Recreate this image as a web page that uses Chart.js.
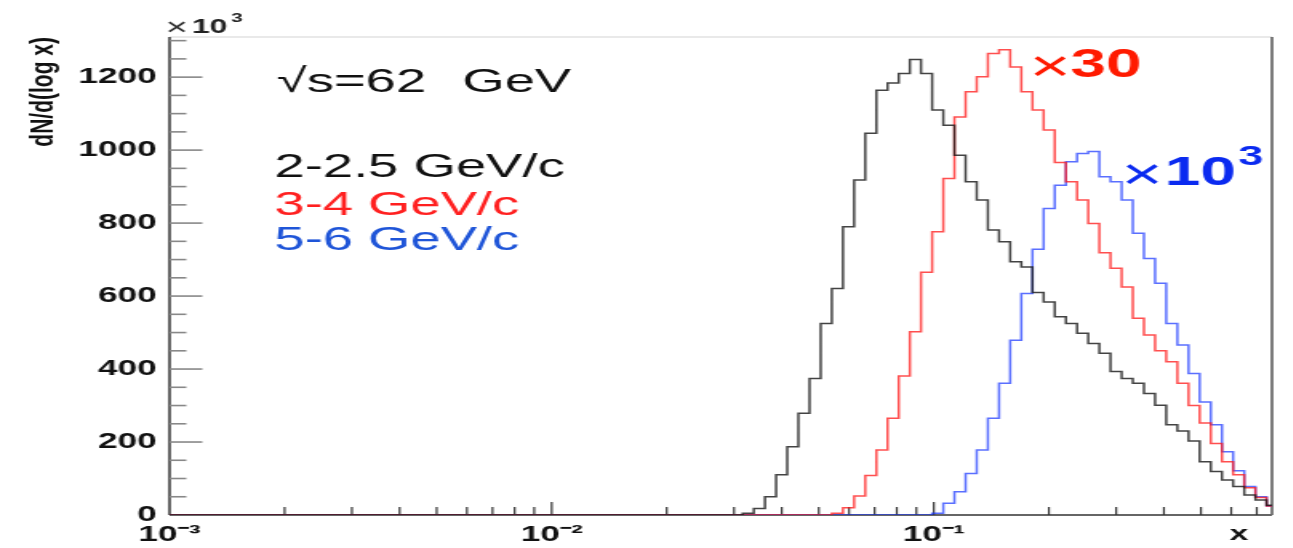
<!DOCTYPE html>
<html>
<head>
<meta charset="utf-8">
<title>dN/d(log x)</title>
<script src="https://cdn.jsdelivr.net/npm/chart.js@4/dist/chart.umd.min.js"></script>
<style>
  html, body { margin: 0; padding: 0; background: #fff; overflow: hidden; }
  /* the original picture is stretched sideways, so the canvas is too */
  #chart { display: block; transform: scaleX(1.6); transform-origin: 0 0; }
</style>
</head>
<body>
<canvas id="chart" width="808" height="548"></canvas>
<script>
// histogram binning in log10(x); the values below start at bin number firstBin
const binLogStart = -2.988;
const binLogWidth = 0.02917;
const firstBin = 50;

const xMin = 0.001;
const xMax = 0.767;
const yMax = 1310;

// 2-2.5 GeV/c
const pt2to25 = [0, 5, 18, 50, 110, 187, 279, 374, 525, 621,
    790, 918, 1046, 1164, 1184, 1210, 1248, 1210, 1110, 1068,
    986, 913, 863, 781, 749, 694, 680, 610, 584, 543,
    525, 498, 470, 443, 393, 374, 361, 333, 301, 247,
    230, 203, 146, 119, 96, 78, 55, 41, 27];
// 3-4 GeV/c (x30)
const pt3to4 = [0, 0, 0, 0, 0, 0, 0, 0, 0, 5,
    20, 52, 108, 178, 265, 381, 502, 665, 776, 922,
    1091, 1160, 1201, 1265, 1275, 1228, 1160, 1110, 1055, 966,
    913, 863, 799, 719, 676, 625, 539, 493, 450, 420,
    361, 300, 252, 196, 146, 110, 75, 48, 25];
// 5-6 GeV/c (x10^3)
const pt5to6 = [0, 0, 0, 0, 0, 0, 0, 0, 0, 0,
    0, 0, 0, 0, 0, 0, 0, 0, 5, 32,
    64, 114, 178, 265, 361, 479, 607, 728, 840, 904,
    968, 991, 996, 927, 913, 863, 772, 703, 635, 525,
    466, 388, 310, 247, 173, 121, 78, 50, 25];

const xTickValues = [0.001, 0.01, 0.1];
const xTickLabels = ["10\u207B\u00B3", "10\u207B\u00B2", "10\u207B\u00B9"];
const yTickValues = [0, 200, 400, 600, 800, 1000, 1200];

const FONT = "'Liberation Sans', Arial, sans-serif";

// points for a step histogram: each point holds its value up to the next edge
function histPoints(values) {
    const pts = [{ x: xMin, y: 0 }];
    values.forEach((v, i) => {
        pts.push({ x: Math.pow(10, binLogStart + (firstBin + i) * binLogWidth), y: v });
    });
    pts.push({ x: Math.pow(10, binLogStart + (firstBin + values.length) * binLogWidth), y: 0 });
    return pts;
}

function line(ctx, x1, y1, x2, y2) {
    ctx.beginPath();
    ctx.moveTo(x1, y1);
    ctx.lineTo(x2, y2);
    ctx.stroke();
}

function text(ctx, s, x, y, font, color) {
    ctx.font = font;
    ctx.fillStyle = color;
    ctx.textAlign = "left";
    ctx.textBaseline = "alphabetic";
    ctx.fillText(s, x, y);
}

// frame and inside ticks, ROOT style
const framePlugin = {
    id: "frame",
    beforeDatasetsDraw(chart) {
        const ctx = chart.ctx;
        const { left, right, top, bottom } = chart.chartArea;
        const xs = chart.scales.x, ys = chart.scales.y;
        ctx.save();
        ctx.lineCap = "butt";

        ctx.strokeStyle = "#d4d4d4"; ctx.lineWidth = 1.2;
        line(ctx, left, top, right, top);
        ctx.strokeStyle = "#444"; ctx.lineWidth = 1.4;
        line(ctx, right, top, right, bottom);
        ctx.strokeStyle = "#555"; ctx.lineWidth = 1.8;
        line(ctx, left, top, left, bottom);
        ctx.strokeStyle = "#666"; ctx.lineWidth = 2;
        line(ctx, left, bottom, right, bottom);

        // y ticks every 50, long ones every 200
        ctx.strokeStyle = "#888"; ctx.lineWidth = 1.6;
        for (let v = 50; v < yMax; v += 50) {
            const py = ys.getPixelForValue(v);
            line(ctx, left, py, left + (v % 200 === 0 ? 20.5 : 10.5), py);
        }

        // x ticks at 1..9 x 10^n
        ctx.strokeStyle = "#333"; ctx.lineWidth = 1.2;
        for (let e = -3; e <= -1; e++) {
            for (let m = 1; m <= 9; m++) {
                const v = m * Math.pow(10, e);
                if (v <= xMin || v >= xMax) continue;
                const px = xs.getPixelForValue(v);
                line(ctx, px, bottom, px, bottom - (m === 1 ? 13 : 8));
            }
        }
        ctx.restore();
    },
    afterDraw(chart) {
        const ctx = chart.ctx;
        ctx.save();

        // axis exponent
        text(ctx, "\u00D7", 103.5, 35, "24px " + FONT, "#333");
        text(ctx, "10", 120, 33, "bold 20px " + FONT, "#222");
        text(ctx, "3", 144.5, 22, "bold 13px " + FONT, "#222");

        text(ctx, "\u221As=62", 173, 92, "34px " + FONT, "#111");
        text(ctx, "GeV", 289, 92, "34px " + FONT, "#111");

        text(ctx, "2-2.5 GeV/c", 171.5, 177, "34px " + FONT, "#111");
        text(ctx, "3-4 GeV/c", 171.5, 215, "34px " + FONT, "#ff2020");
        text(ctx, "5-6 GeV/c", 171.5, 250, "34px " + FONT, "#1f55d8");

        // scale factors
        text(ctx, "\u00D7", 643.5, 81, "44px " + FONT, "#ff1a00");
        text(ctx, "30", 669, 77, "bold 40px " + FONT, "#ff1a00");
        text(ctx, "\u00D7", 701, 189, "44px " + FONT, "#0a2af0");
        text(ctx, "10", 728, 185, "bold 40px " + FONT, "#0a2af0");
        text(ctx, "3", 774, 165, "bold 28px " + FONT, "#0a2af0");

        // axis titles
        text(ctx, "x", 768.5, 539.5, "bold 21px " + FONT, "#111");
        ctx.translate(33, 37);
        ctx.rotate(-Math.PI / 2);
        ctx.font = "bold 21px " + FONT;
        ctx.fillStyle = "#111";
        ctx.textAlign = "right";
        ctx.textBaseline = "alphabetic";
        ctx.fillText("dN/d(log x)", 0, 0);
        ctx.restore();
    }
};

function histDataset(label, values, color) {
    return {
        label: label,
        data: histPoints(values),
        borderColor: color,
        borderWidth: 1.5,
        stepped: true,
        pointRadius: 0,
        fill: false
    };
}

new Chart(document.getElementById("chart"), {
    type: "line",
    data: {
        datasets: [
            histDataset("2-2.5 GeV/c", pt2to25, "rgba(20,20,20,0.8)"),
            histDataset("3-4 GeV/c", pt3to4, "rgba(255,20,20,0.75)"),
            histDataset("5-6 GeV/c", pt5to6, "rgba(20,50,255,0.7)")
        ]
    },
    options: {
        responsive: false,
        animation: false,
        events: [],
        layout: { padding: { left: 0, right: 13, top: 37, bottom: 0 } },
        plugins: { legend: { display: false }, tooltip: { enabled: false } },
        scales: {
            x: {
                type: "logarithmic",
                min: xMin,
                max: xMax,
                grid: { display: false, drawTicks: false },
                border: { display: false },
                afterBuildTicks: s => { s.ticks = xTickValues.map(v => ({ value: v, major: true })); },
                afterFit: s => { s.height = 33; },
                ticks: {
                    autoSkip: false,
                    maxRotation: 0,
                    padding: 7,
                    color: "#111",
                    font: { family: FONT, size: 22, weight: "bold" },
                    callback: v => {
                        const i = xTickValues.findIndex(t => Math.abs(t - v) / t < 1e-6);
                        return i >= 0 ? xTickLabels[i] : "";
                    }
                }
            },
            y: {
                min: 0,
                max: yMax,
                grid: { display: false, drawTicks: false },
                border: { display: false },
                afterBuildTicks: s => { s.ticks = yTickValues.map(v => ({ value: v })); },
                afterFit: s => { s.width = 106; },
                ticks: {
                    autoSkip: false,
                    padding: 8,
                    color: "#111",
                    font: { family: FONT, size: 22, weight: "bold" },
                    callback: v => String(v)
                }
            }
        }
    },
    plugins: [framePlugin]
});
</script>
</body>
</html>
